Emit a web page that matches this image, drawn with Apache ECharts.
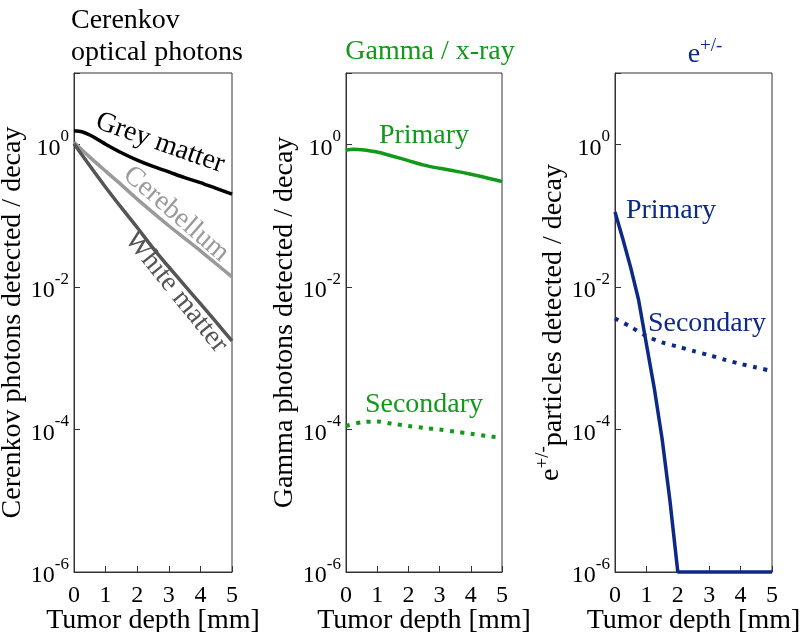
<!DOCTYPE html>
<html>
<head>
<meta charset="utf-8">
<script src="https://cdn.jsdelivr.net/npm/echarts@6/dist/echarts.min.js"></script>
<style>html,body{margin:0;padding:0;background:#fff}#c{width:800px;height:632px}</style>
</head>
<body>
<div id="c"></div>
<script>
// ---- data ----
const greyX = [0, 0.25, 0.5, 0.75, 1, 1.5, 2, 2.5, 3, 3.5, 4, 4.5, 5];
const greyMatter = [1.55, 1.50, 1.35, 1.17, 1.0, 0.76, 0.60, 0.49, 0.41, 0.34, 0.29, 0.24, 0.20];
const stepX = [0, 0.5, 1, 1.5, 2, 2.5, 3, 3.5, 4, 4.5, 5];
const cerebellum = [1.07, 0.66, 0.42, 0.27, 0.17, 0.11, 0.072, 0.048, 0.032, 0.021, 0.0138];
const whiteMatter = [1.02, 0.50, 0.25, 0.129, 0.068, 0.035, 0.019, 0.0105, 0.0058, 0.0032, 0.00174];
const gammaX = [0, 0.25, 0.5, 1, 1.5, 2, 2.5, 3, 3.5, 4, 4.5, 5];
const gammaPrimary = [0.83, 0.85, 0.84, 0.78, 0.68, 0.59, 0.51, 0.46, 0.42, 0.38, 0.34, 0.30];
const gammaSecondary = [1.12e-4, 1.26e-4, 1.29e-4, 1.20e-4, 1.12e-4, 1.05e-4, 1.0e-4, 9.3e-5, 8.7e-5, 8.1e-5, 7.6e-5];
const ePrimaryX = [0, 0.25, 0.5, 0.75, 1, 1.25, 1.5, 1.75, 2, 3, 4, 5];
const ePrimary = [0.112, 0.047, 0.0186, 0.0066, 0.00158, 3.8e-4, 7.4e-5, 1.0e-5, 1e-6, 1e-6, 1e-6, 1e-6];
const eSecondary = [3.6e-3, 2.75e-3, 2.04e-3, 1.66e-3, 1.45e-3, 1.26e-3, 1.10e-3, 9.5e-4, 8.3e-4, 7.4e-4, 6.6e-4];
const xTicks = [0, 1, 2, 3, 4, 5];
const yMin = 1e-6, yMax = 10;

const FONT = "'Liberation Serif', 'Times New Roman', serif";
const GREEN = '#12991a';
const BLUE = '#0c2a85';

function pairs(xs, ys) { return ys.map((v, i) => [xs[i], v]); }

const grids = [
  {left: 74, top: 73, width: 158, height: 499},
  {left: 346, top: 73, width: 156, height: 499},
  {left: 615, top: 73, width: 157, height: 499}
].map(g => Object.assign({show: true, borderColor: '#333', borderWidth: 1, backgroundColor: 'transparent',
  containLabel: false, outerBoundsMode: 'none'}, g));

const yNames = [
  'Cerenkov photons detected / decay',
  'Gamma photons detected / decay',
  '{s|+/-}{n|particles detected / decay}'
];
const yNameGaps = [46, 42, 38];

const xAxes = grids.map((g, i) => ({
  type: 'value', gridIndex: i, min: xTicks[0], max: xTicks[xTicks.length - 1], interval: 1,
  axisLine: {show: true, lineStyle: {color: '#333', width: 1}},
  axisTick: {show: true, inside: true, length: 6, lineStyle: {color: '#333'}},
  axisLabel: {fontFamily: FONT, fontSize: 24, color: '#000', margin: 12},
  splitLine: {show: false},
  name: 'Tumor depth [mm]', nameLocation: 'middle', nameGap: 35, nameMoveOverlap: false,
  nameTextStyle: {fontFamily: FONT, fontSize: 28, color: '#000'}
}));

const yAxes = grids.map((g, i) => ({
  type: 'log', logBase: 10, gridIndex: i, min: yMin, max: yMax, interval: 2,
  axisLine: {show: true, lineStyle: {color: '#333', width: 1}},
  axisTick: {show: true, inside: true, length: 6, lineStyle: {color: '#333'}},
  axisLabel: {
    margin: 5, color: '#000',
    formatter: function (v) {
      const e = Math.round(Math.log10(v));
      if (e > 0 || e % 2 !== 0) return '';
      return '{b|10}{s|' + e + '}';
    },
    rich: {
      b: {fontFamily: FONT, fontSize: 24, color: '#000', verticalAlign: 'bottom', lineHeight: 32},
      s: {fontFamily: FONT, fontSize: 17, color: '#000', verticalAlign: 'top', lineHeight: 32}
    }
  },
  splitLine: {show: false},
  name: i === 2 ? 'e' + yNames[2] : yNames[i],
  nameLocation: 'middle', nameGap: yNameGaps[i],
  nameTextStyle: i === 2 ? {
    fontFamily: FONT, fontSize: 28, color: '#000',
    rich: {
      s: {fontFamily: FONT, fontSize: 19, color: '#000', verticalAlign: 'top', lineHeight: 34},
      n: {fontFamily: FONT, fontSize: 28, color: '#000', verticalAlign: 'bottom', lineHeight: 34}
    }
  } : {fontFamily: FONT, fontSize: 28, color: '#000'}
}));

function line(idx, data, color, width, dotted, smooth) {
  return {
    type: 'line', xAxisIndex: idx, yAxisIndex: idx, data: data, showSymbol: false,
    smooth: smooth, clip: false, silent: true,
    lineStyle: dotted ? {color: color, width: 4, type: [4, 6.5], cap: 'butt'} : {color: color, width: width},
    itemStyle: {color: color}
  };
}

const series = [
  line(0, pairs(greyX, greyMatter), '#000000', 3.5, false, 0.3),
  line(0, pairs(stepX, cerebellum), '#9a9a9a', 3.5, false, 0.3),
  line(0, pairs(stepX, whiteMatter), '#555555', 3.5, false, 0.3),
  line(1, pairs(gammaX, gammaPrimary), GREEN, 3.5, false, 0.3),
  line(1, pairs(stepX, gammaSecondary), GREEN, 4, true, 0.3),
  line(2, pairs(ePrimaryX, ePrimary), BLUE, 3.5, false, false),
  line(2, pairs(stepX, eSecondary), BLUE, 4, true, 0.3)
];

const titles = [
  {text: 'Cerenkov\noptical photons', left: 66, top: 0,
   textStyle: {fontFamily: FONT, fontSize: 28, fontWeight: 'normal', color: '#000', lineHeight: 32}},
  {text: 'Gamma / x-ray', left: 425, top: 33, textAlign: 'center',
   textStyle: {fontFamily: FONT, fontSize: 28, fontWeight: 'normal', color: GREEN}},
  {text: '{b|e}{s|+/-}', left: 700, top: 32, textAlign: 'center',
   textStyle: {fontFamily: FONT, fontSize: 28, fontWeight: 'normal', color: BLUE,
     rich: {b: {fontFamily: FONT, fontSize: 28, color: BLUE, verticalAlign: 'bottom', lineHeight: 32},
            s: {fontFamily: FONT, fontSize: 19, color: BLUE, verticalAlign: 'top', lineHeight: 32}}}}
];

function lbl(text, x, y, color, rotDeg) {
  return {type: 'text', x: x, y: y, rotation: -rotDeg * Math.PI / 180, silent: true,
    style: {text: text, fontFamily: FONT, fontSize: 28, fill: color, align: 'center', verticalAlign: 'middle'}};
}

const graphic = [
  lbl('Grey matter', 160, 143, '#000', 19.5),
  lbl('Cerebellum', 176, 214, '#9a9a9a', 41),
  lbl('White matter', 176, 292, '#555555', 51),
  lbl('Primary', 424, 136, GREEN, 0),
  lbl('Secondary', 424, 405, GREEN, 0),
  lbl('Primary', 671, 211, BLUE, 0),
  lbl('Secondary', 707, 324, BLUE, 0)
];

const chart = echarts.init(document.getElementById('c'), null, {renderer: 'canvas'});
chart.setOption({
  animation: false,
  backgroundColor: '#fff',
  title: titles,
  grid: grids,
  xAxis: xAxes,
  yAxis: yAxes,
  series: series,
  graphic: graphic
});
</script>
</body>
</html>
